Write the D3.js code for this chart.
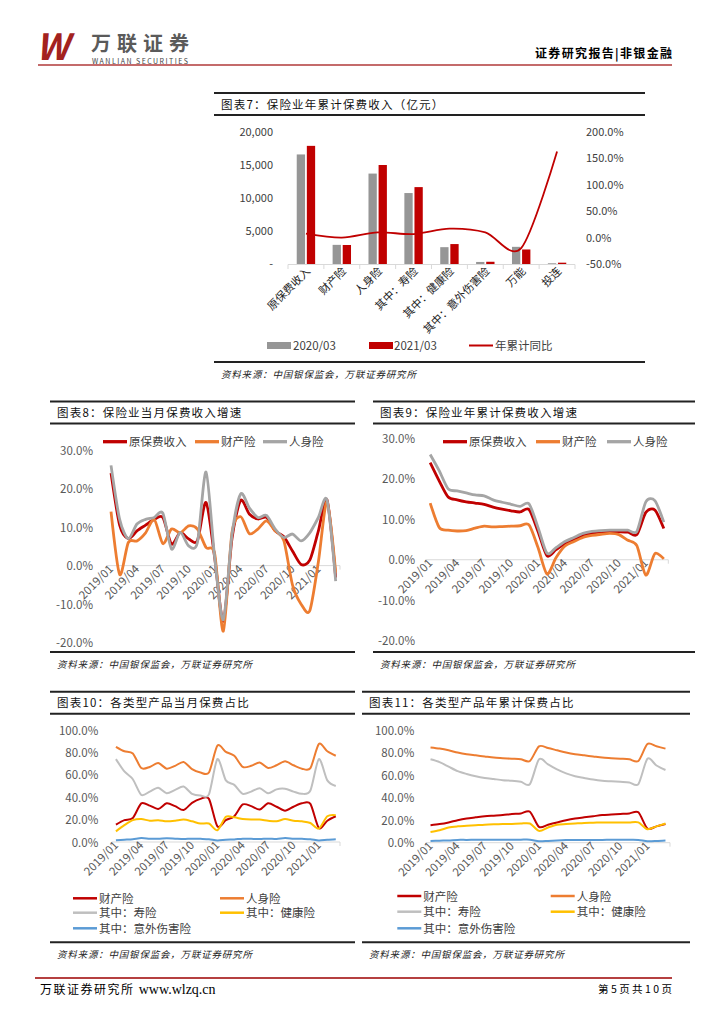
<!DOCTYPE html>
<html>
<head>
<meta charset="utf-8">
<script src="https://cdn.jsdelivr.net/npm/d3@7"></script>
<style>
  body { margin: 0; background: #fff; }
  svg { display: block; }
  text { font-family: "Noto Sans CJK SC", "Noto Sans", sans-serif; }
</style>
</head>
<body>
<div id="page"></div>
<script>
// ---- chart 7: year-to-date premium by product (亿元)
const products = ['原保费收入', '财产险', '人身险', '其中：寿险', '其中：健康险', '其中：意外伤害险', '万能', '投连'];
const premium2020 = [16600, 2900, 13700, 10750, 2550, 310, 2600, 110];
const premium2021 = [17900, 2880, 15000, 11650, 3020, 340, 2200, 200];
const premiumYoy = [7.7, 0, 9.8, 6.7, 17, 10, -20, 163];

// ---- months shared by charts 8-11
const months = ['2019/01', '2019/02', '2019/03', '2019/04', '2019/05', '2019/06', '2019/07', '2019/08', '2019/09',
  '2019/10', '2019/11', '2019/12', '2020/01', '2020/02', '2020/03', '2020/04', '2020/05', '2020/06', '2020/07',
  '2020/08', '2020/09', '2020/10', '2020/11', '2020/12', '2021/01', '2021/02', '2021/03'];
const monthTicks = ['2019/01', '2019/04', '2019/07', '2019/10', '2020/01', '2020/04', '2020/07', '2020/10', '2021/01'];

// chart 8: monthly growth (%)
const monthTotal = [24, 10.5, 7, 9, 10.5, 12, 12.5, 5.6, 8.6, 6.9, 6.5, 16.4, 2, -14.4, 7, 16.9, 13.4, 12.1, 12.5, 9, 7.5, 3.8, 0.3, 1.4, 9, 17, -3.1];
const monthProp = [14, -2.3, 6, 6.4, 8.5, 12, 5.7, 9.5, 8.5, 10.3, 9.5, 4.7, 3, -17, 8.6, 12.7, 8.3, 9.5, 11.6, 9, 6.5, -5, -10, -11.7, 1, 16.5, -1.8];
const monthLife = [26, 12, 7, 10.8, 12, 12.5, 13.6, 4.3, 8.6, 5.1, 6, 24.3, 2, -14, 8, 18.6, 15, 12.5, 13, 9.5, 7.3, 8.2, 6.4, 8.5, 12.5, 17, -4];

// chart 9: year-to-date growth (%)
const ytdTotal = [24, 19.5, 15.5, 14.8, 14.3, 14, 13.7, 13, 12.5, 12.1, 11.8, 12.4, 7, 1, 2.5, 4, 5, 6, 6.6, 6.8, 6.9, 6.9, 6.8, 6.2, 11.7, 12.3, 7.7];
const ytdProp = [14, 8, 7.3, 7.1, 7.2, 7.8, 8.3, 8.1, 8.2, 8.3, 8.4, 8.6, 3, -3.5, 0.5, 3.4, 4.5, 5.5, 6, 6.3, 6.5, 6.2, 4.8, 3.5, -3.8, 1.5, 0.2];
const ytdLife = [26, 22, 17.5, 17, 16.5, 16, 15.8, 14.8, 14.2, 13.7, 13.2, 13.8, 8, 1.6, 3, 4.5, 5.5, 6.5, 7, 7.2, 7.3, 7.3, 7.3, 7, 14.3, 14.6, 9.3];

// chart 10: monthly share (%)
const shareMProp = [15.5, 19.5, 21.5, 34.5, 32.5, 29.5, 34.5, 32, 28.5, 35, 38.5, 38.5, 14, 19.5, 23, 33.5, 32, 29, 34.5, 31.5, 28, 31.5, 34.5, 34, 12.5, 19, 23];
const shareMLife = [85, 81, 79, 66, 67, 70.5, 65.5, 68, 71.5, 65, 62, 62, 86, 80.5, 77, 67, 68, 71, 66, 68.5, 72, 68.5, 65.5, 66, 87.5, 81, 77];
const shareMShou = [74, 63, 56, 42, 45, 48.5, 43.5, 46.5, 49.5, 43, 41.5, 42.5, 74, 55, 51, 43, 45, 48, 43.5, 47, 47.5, 45, 43, 46, 74, 55, 50];
const shareMHealth = [9.5, 15, 19.5, 20.5, 19, 19.5, 18.5, 19, 20, 18.5, 16.5, 16.5, 10.5, 22.5, 22, 20.5, 20, 20, 19, 18.5, 20.5, 19, 18.5, 17, 12, 23, 24];
const shareMAccident = [1.5, 2, 2.5, 3.5, 3, 2.8, 3.3, 3, 2.7, 3, 2.8, 2.5, 1.3, 2, 2.3, 3, 2.8, 2.6, 3, 2.7, 3.5, 3, 2.8, 2.5, 1.3, 2, 2.5];

// chart 11: year-to-date share (%)
const shareYProp = [15.5, 16.5, 18, 20, 21.5, 22.5, 23.5, 24, 24.5, 25.5, 26, 27.5, 14, 16, 18, 20, 21.5, 22.5, 23.5, 24.5, 25, 25.5, 26, 27, 12.5, 14.5, 16.5];
const shareYLife = [84.5, 83.5, 82, 80, 78.5, 77.5, 76.5, 75.5, 75, 74.5, 74, 72.5, 85.5, 84, 82, 80, 78.5, 77.5, 76.5, 75.5, 75, 74.5, 74, 72.5, 87.5, 85.5, 83.5];
const shareYShou = [74, 71.5, 67.5, 63.5, 61, 59, 57.5, 56.5, 55.5, 55, 54, 52, 74, 69.5, 65, 61.5, 59, 57.5, 56, 55, 54.5, 54, 53.5, 52, 74.5, 68.5, 64.5];
const shareYHealth = [9.5, 11, 13.5, 14.5, 15, 15.5, 16, 16.3, 16.5, 16.7, 17, 17, 10.5, 13.5, 16, 16.5, 17, 17.5, 17.7, 18, 18, 18, 18, 18, 12, 14.5, 17];
const shareYAccident = [1.5, 1.8, 2, 2.5, 2.5, 2.6, 2.6, 2.7, 2.7, 2.7, 2.7, 2.7, 1.3, 1.6, 2, 2.3, 2.4, 2.5, 2.5, 2.5, 2.6, 2.6, 2.6, 2.5, 1.3, 1.5, 2];

const RED = '#C00000', ORANGE = '#ED7D31', GREY = '#A5A5A5', YELLOW = '#FFC000', BLUE = '#5B9BD5';
const SOURCE = '资料来源：中国银保监会，万联证券研究所';

const svg = d3.select('#page').append('svg')
    .attr('width', 724)
    .attr('height', 1024);

// ---------- page header / footer
svg.append('text')
    .attr('x', 36).attr('y', 60)
    .attr('font-family', 'Liberation Sans')
    .attr('font-size', 36).attr('font-weight', 'bold').attr('font-style', 'italic')
    .attr('fill', '#A3221E')
    .text('W');
svg.append('text')
    .attr('x', 91).attr('y', 51)
    .attr('font-size', 20).attr('font-weight', 'bold')
    .attr('fill', '#5A5A5A')
    .attr('textLength', 98)
    .text('万联证券');
svg.append('text')
    .attr('x', 92).attr('y', 63.5)
    .attr('font-family', 'Liberation Sans')
    .attr('font-size', 7)
    .attr('fill', '#444')
    .attr('textLength', 96)
    .text('WANLIAN SECURITIES');
svg.append('line')
    .attr('x1', 38).attr('x2', 672).attr('y1', 65).attr('y2', 65)
    .attr('stroke', '#B03A3A').attr('stroke-width', 1.5);
svg.append('text')
    .attr('x', 535).attr('y', 58)
    .attr('font-size', 12).attr('font-weight', 'bold')
    .attr('textLength', 137)
    .text('证券研究报告|非银金融');

svg.append('line')
    .attr('x1', 35).attr('x2', 672).attr('y1', 978).attr('y2', 978)
    .attr('stroke', '#B54040').attr('stroke-width', 2);
const foot = svg.append('text')
    .attr('x', 40).attr('y', 994)
    .attr('font-size', 12);
foot.append('tspan')
    .attr('letter-spacing', 1.5)
    .text('万联证券研究所 ');
foot.append('tspan')
    .attr('font-family', 'Liberation Serif')
    .attr('font-size', 14)
    .text('www.wlzq.cn');
svg.append('text')
    .attr('x', 598).attr('y', 993)
    .attr('font-size', 10.5)
    .attr('textLength', 74)
    .text('第5页共10页');

// frame with title and source, as used by every chart
const frame = (x1, x2, yTop, yBottom, title) => {
    const rule = (y) => svg.append('line')
        .attr('x1', x1).attr('x2', x2).attr('y1', y).attr('y2', y)
        .attr('stroke', '#222').attr('stroke-width', 2);
    rule(yTop);
    rule(yTop + 22);
    rule(yBottom);
    svg.append('text')
        .attr('x', x1 + 7).attr('y', yTop + 15.5)
        .attr('font-size', 11.5)
        .attr('letter-spacing', 1.2)
        .attr('fill', '#111')
        .text(title);
    svg.append('text')
        .attr('x', x1 + 7).attr('y', yBottom + 16)
        .attr('font-size', 9.5)
        .attr('font-style', 'italic')
        .attr('letter-spacing', 0.8)
        .attr('fill', '#222')
        .text(SOURCE);
};

// ---------- chart 7
frame(214, 645, 93, 362, '图表7：保险业年累计保费收入（亿元）');

const x7 = d3.scaleBand().domain(products).range([288, 575]);
const y7 = d3.scaleLinear().domain([0, 20000]).range([264, 132]);
const y7r = d3.scaleLinear().domain([-50, 200]).range([264, 132]);

svg.append('g')
    .selectAll('text')
    .data(y7.ticks(4))
    .enter().append('text')
    .attr('x', 273).attr('y', (d) => y7(d) + 4)
    .attr('text-anchor', 'end')
    .attr('font-size', 11).attr('fill', '#404040')
    .text((d) => d === 0 ? '-' : d3.format(',')(d));

svg.append('g')
    .selectAll('text')
    .data(d3.range(-50, 201, 50))
    .enter().append('text')
    .attr('x', 586).attr('y', (d) => y7r(d) + 4)
    .attr('font-size', 11).attr('fill', '#404040')
    .text((d) => d.toFixed(1) + '%');

const barW = 8.3;
const bars7 = svg.append('g');
bars7.selectAll('rect.y2020')
    .data(premium2020)
    .enter().append('rect')
    .attr('class', 'y2020')
    .attr('x', (d, i) => x7(products[i]) + x7.bandwidth() / 2 - barW - 0.9)
    .attr('y', (d) => y7(d))
    .attr('width', barW)
    .attr('height', (d) => y7(0) - y7(d))
    .attr('fill', '#969696');
bars7.selectAll('rect.y2021')
    .data(premium2021)
    .enter().append('rect')
    .attr('class', 'y2021')
    .attr('x', (d, i) => x7(products[i]) + x7.bandwidth() / 2 + 0.9)
    .attr('y', (d) => y7(d))
    .attr('width', barW)
    .attr('height', (d) => y7(0) - y7(d))
    .attr('fill', RED);

svg.append('line')
    .attr('x1', 288).attr('x2', 575).attr('y1', 264.5).attr('y2', 264.5)
    .attr('stroke', '#D9D9D9');
svg.append('g')
    .selectAll('line')
    .data(d3.range(products.length + 1))
    .enter().append('line')
    .attr('x1', (i) => 288 + i * x7.step()).attr('x2', (i) => 288 + i * x7.step())
    .attr('y1', 264.5).attr('y2', 269)
    .attr('stroke', '#D9D9D9');

svg.append('path')
    .datum(premiumYoy)
    .attr('fill', 'none')
    .attr('stroke', RED)
    .attr('stroke-width', 1.8)
    .attr('d', d3.line()
        .x((d, i) => x7(products[i]) + x7.bandwidth() / 2)
        .y((d) => y7r(d))
        .curve(d3.curveCardinal.tension(0.1)));

svg.append('g')
    .selectAll('text')
    .data(products)
    .enter().append('text')
    .attr('transform', (d) => `translate(${x7(d) + x7.bandwidth() / 2 + 5},${272}) rotate(-45)`)
    .attr('text-anchor', 'end')
    .attr('font-size', 11).attr('fill', '#222')
    .text((d) => d);

const leg7 = svg.append('g').attr('font-size', 11.5).attr('fill', '#404040');
leg7.append('rect').attr('x', 267).attr('y', 342).attr('width', 24).attr('height', 7).attr('fill', '#969696');
leg7.append('text').attr('x', 293).attr('y', 350).attr('font-family', 'Liberation Sans').text('2020/03');
leg7.append('rect').attr('x', 369).attr('y', 342).attr('width', 24).attr('height', 7).attr('fill', RED);
leg7.append('text').attr('x', 394).attr('y', 350).attr('font-family', 'Liberation Sans').text('2021/03');
leg7.append('line').attr('x1', 469).attr('x2', 493).attr('y1', 345.5).attr('y2', 345.5)
    .attr('stroke', RED).attr('stroke-width', 2);
leg7.append('text').attr('x', 495).attr('y', 350).text('年累计同比');

// ---------- line charts 8-11
const lineChart = (cfg) => {
    const x = d3.scaleBand().domain(months).range([cfg.x0, cfg.x1]);
    const y = d3.scaleLinear().domain(cfg.domain).range([cfg.yb, cfg.yt]);
    const g = svg.append('g');

    g.selectAll('text.ytick')
        .data(d3.range(cfg.domain[0], cfg.domain[1] + 0.1, cfg.step))
        .enter().append('text')
        .attr('class', 'ytick')
        .attr('x', cfg.labelX).attr('y', (d) => y(d) + 4.5)
        .attr('text-anchor', 'end')
        .attr('font-size', 11.5).attr('fill', '#595959')
        .text((d) => d.toFixed(1) + '%');

    const y0 = y(0);
    g.append('line')
        .attr('x1', cfg.x0).attr('x2', cfg.x1).attr('y1', y0).attr('y2', y0)
        .attr('stroke', '#D9D9D9');
    g.selectAll('line.xtick')
        .data(d3.range(0, months.length + 1, 3))
        .enter().append('line')
        .attr('class', 'xtick')
        .attr('x1', (i) => cfg.x0 + i * x.step()).attr('x2', (i) => cfg.x0 + i * x.step())
        .attr('y1', y0).attr('y2', y0 + 4)
        .attr('stroke', '#D9D9D9');

    g.selectAll('text.xlab')
        .data(monthTicks)
        .enter().append('text')
        .attr('class', 'xlab')
        .attr('transform', (d) => `translate(${x(d) + x.bandwidth() / 2 + 3},${y0 + 4}) rotate(-45)`)
        .attr('text-anchor', 'end')
        .attr('font-size', 11.5).attr('fill', '#595959')
        .text((d) => d);

    const line = d3.line()
        .x((d, i) => x(months[i]) + x.bandwidth() / 2)
        .y((d) => y(d))
        .curve(d3.curveCardinal.tension(0.2));

    cfg.series.forEach((s) => {
        g.append('path')
            .datum(s.values)
            .attr('fill', 'none')
            .attr('stroke', s.color)
            .attr('stroke-width', cfg.width)
            .attr('stroke-linejoin', 'round')
            .attr('d', line);
    });

    const leg = g.append('g').attr('font-size', 11.5).attr('fill', '#404040');
    cfg.legend.forEach((l, i) => {
        const s = cfg.series[i];
        leg.append('line')
            .attr('x1', l[0]).attr('x2', l[0] + 24).attr('y1', l[1]).attr('y2', l[1])
            .attr('stroke', s.color).attr('stroke-width', cfg.width + 0.5);
        leg.append('text')
            .attr('x', l[0] + 26).attr('y', l[1] + 4.5)
            .text(s.name);
    });
};

frame(50, 355, 401.5, 652, '图表8：保险业当月保费收入增速');
lineChart({
    x0: 106.7, x1: 340, yb: 642.7, yt: 450, domain: [-20, 30], step: 10, labelX: 93, width: 2.8,
    series: [
        { name: '原保费收入', color: RED, values: monthTotal },
        { name: '财产险', color: ORANGE, values: monthProp },
        { name: '人身险', color: GREY, values: monthLife }
    ],
    legend: [[103, 441.7], [195, 441.7], [263, 441.7]]
});

frame(373, 695, 401.5, 652, '图表9：保险业年累计保费收入增速');
lineChart({
    x0: 425.7, x1: 668.3, yb: 640.7, yt: 438.3, domain: [-20, 30], step: 10, labelX: 415, width: 2.8,
    series: [
        { name: '原保费收入', color: RED, values: ytdTotal },
        { name: '财产险', color: ORANGE, values: ytdProp },
        { name: '人身险', color: GREY, values: ytdLife }
    ],
    legend: [[443, 441.7], [536, 441.7], [607, 441.7]]
});

frame(50, 355, 691.7, 942.3, '图表10：各类型产品当月保费占比');
lineChart({
    x0: 111.7, x1: 340, yb: 842, yt: 730, domain: [0, 100], step: 20, labelX: 98.3, width: 2,
    series: [
        { name: '财产险', color: RED, values: shareMProp },
        { name: '人身险', color: ORANGE, values: shareMLife },
        { name: '其中：寿险', color: '#BFBFBF', values: shareMShou },
        { name: '其中：健康险', color: YELLOW, values: shareMHealth },
        { name: '其中：意外伤害险', color: BLUE, values: shareMAccident }
    ],
    legend: [[73, 898.3], [220, 898.3], [73, 912.7], [220, 912.7], [73, 928.3]]
});

frame(362, 690, 691.7, 942.3, '图表11：各类型产品年累计保费占比');
lineChart({
    x0: 426, x1: 670, yb: 842.7, yt: 730, domain: [0, 100], step: 20, labelX: 414.3, width: 2,
    series: [
        { name: '财产险', color: RED, values: shareYProp },
        { name: '人身险', color: ORANGE, values: shareYLife },
        { name: '其中：寿险', color: '#BFBFBF', values: shareYShou },
        { name: '其中：健康险', color: YELLOW, values: shareYHealth },
        { name: '其中：意外伤害险', color: BLUE, values: shareYAccident }
    ],
    legend: [[397.3, 896], [550.7, 896], [397.3, 911.7], [550.7, 911.7], [397.3, 928.3]]
});
</script>
</body>
</html>
